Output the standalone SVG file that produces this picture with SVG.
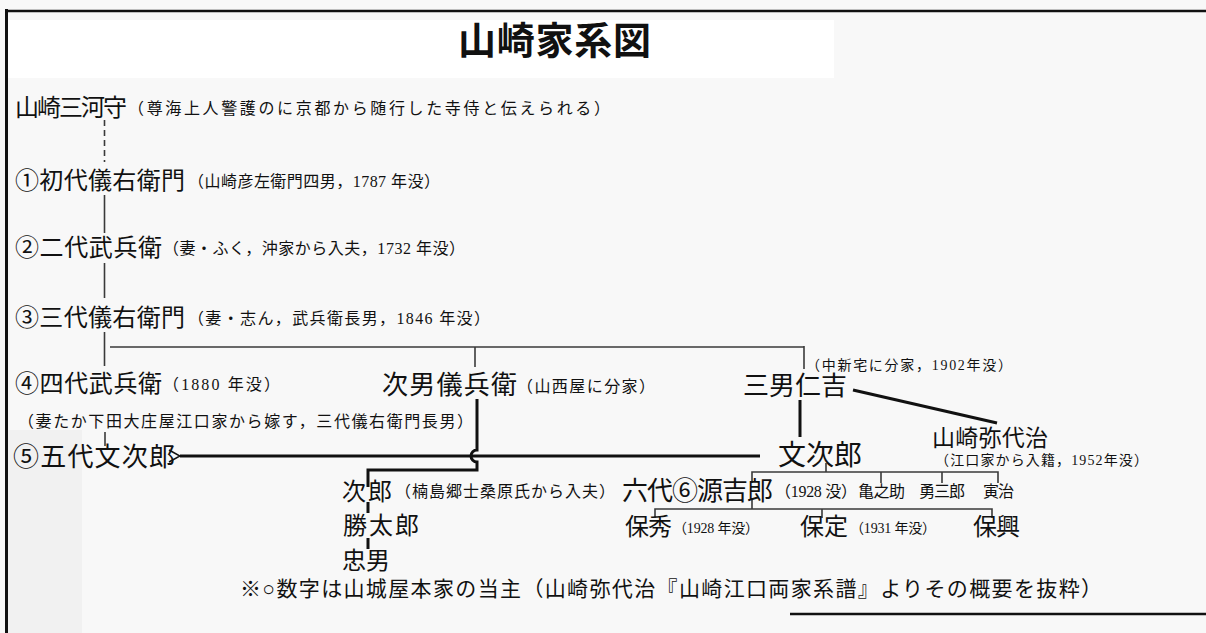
<svg xmlns="http://www.w3.org/2000/svg" width="1206" height="633" viewBox="0 0 1206 633">
<style>
text{font-family:"Liberation Serif","Noto Sans CJK JP",serif;fill:#111}
.t{font-size:38px;font-weight:bold}
.n{font-size:24px}
.b{font-size:26px}
.c{font-size:24px}
.a{font-size:16px}
.s{font-size:14px}
.f{font-size:21px}
.ln{stroke:#3a3a3a;stroke-width:1.6;fill:none}
.bk{stroke:#111;stroke-width:3;fill:none}
.fr{stroke:#111;fill:none}
</style>
<defs>
<marker id="arr" markerWidth="14" markerHeight="14" refX="1" refY="7" orient="auto" markerUnits="userSpaceOnUse">
<path d="M12,1 L1,7 L12,13" fill="none" stroke="#111" stroke-width="1.6"/>
</marker>
</defs>
<rect x="0" y="0" width="1206" height="633" fill="#f8f8f8"/>
<rect x="8" y="20" width="826" height="58" fill="#ffffff"/>
<rect x="8" y="430" width="74" height="203" fill="#f1f1f1"/>
<g id="frame">
<line class="fr" x1="6.5" y1="9" x2="6.5" y2="633" stroke-width="3"/>
<line class="fr" x1="5" y1="11" x2="1206" y2="11" stroke-width="2.5"/>
<line class="fr" x1="790" y1="614" x2="1206" y2="614" stroke-width="2.5"/>
</g>
<g id="title"><text class="t" x="458" y="54" textLength="193" lengthAdjust="spacing">山崎家系図</text></g>
<g id="connectors">
<line class="ln" x1="104.5" y1="120" x2="104.5" y2="162" stroke-dasharray="6 4" stroke-width="1.2"/>
<line class="ln" x1="104.5" y1="195" x2="104.5" y2="233"/>
<line class="ln" x1="104.5" y1="263" x2="104.5" y2="298"/>
<line class="ln" x1="104.5" y1="332" x2="104.5" y2="366"/>
<line class="ln" x1="110" y1="347" x2="804" y2="347"/>
<line class="ln" x1="475" y1="347" x2="475" y2="367"/>
<line class="ln" x1="804" y1="346" x2="804" y2="369"/>
<line class="ln" x1="105" y1="432" x2="105" y2="446"/>
<line class="bk" x1="760" y1="456" x2="180" y2="456" stroke-width="2.5" marker-end="url(#arr)"/>
<path class="bk" d="M477 399 V450 A6 6 0 0 0 477 462 V470 H368 V487"/>
<line class="bk" x1="800" y1="400" x2="800" y2="437"/>
<line class="bk" x1="853" y1="390" x2="997" y2="423" stroke-width="2.5"/>
<path class="ln" d="M752 483 V472 H998 V483 M826 463 V472 M881 472 V483 M942 472 V483"/>
<path class="ln" d="M655 518 V509 H992 V518 M752 500 V509 M822 509 V518"/>
<line class="bk" x1="368" y1="502" x2="368" y2="513" stroke-width="2.5"/>
<line class="bk" x1="368" y1="538" x2="368" y2="549" stroke-width="2.5"/>
</g>
<g id="n-mikawa">
<text class="n" x="15" y="116" textLength="112" lengthAdjust="spacing">山崎三河守</text>
<text class="a" x="128" y="114" textLength="482" lengthAdjust="spacing">（尊海上人警護のに京都から随行した寺侍と伝えられる）</text>
</g>
<g id="n-1">
<text class="n" x="15" y="189" textLength="170" lengthAdjust="spacing">①初代儀右衛門</text>
<text class="a" x="188" y="187" textLength="252" lengthAdjust="spacing">（山崎彦左衛門四男，1787 年没）</text>
</g>
<g id="n-2">
<text class="n" x="15" y="256" textLength="147" lengthAdjust="spacing">②二代武兵衛</text>
<text class="a" x="163" y="254" textLength="302" lengthAdjust="spacing">（妻・ふく，沖家から入夫，1732 年没）</text>
</g>
<g id="n-3">
<text class="n" x="15" y="326" textLength="170" lengthAdjust="spacing">③三代儀右衛門</text>
<text class="a" x="188" y="324" textLength="302" lengthAdjust="spacing">（妻・志ん，武兵衛長男，1846 年没）</text>
</g>
<g id="n-4">
<text class="n" x="15" y="392" textLength="147" lengthAdjust="spacing">④四代武兵衛</text>
<text class="a" x="163" y="390" textLength="117" lengthAdjust="spacing">（1880 年没）</text>
<text class="a" x="18" y="427" textLength="455" lengthAdjust="spacing">（妻たか下田大庄屋江口家から嫁す，三代儀右衛門長男）</text>
</g>
<g id="n-5">
<text class="b" x="13" y="466" textLength="162" lengthAdjust="spacing">⑤五代文次郎</text>
</g>
<g id="n-gihei">
<text class="b" x="382" y="394" textLength="135" lengthAdjust="spacing">次男儀兵衛</text>
<text class="a" x="517" y="392" textLength="138" lengthAdjust="spacing">（山西屋に分家）</text>
</g>
<g id="n-nikichi">
<text class="b" x="743" y="395" textLength="104" lengthAdjust="spacing">三男仁吉</text>
<text class="s" x="806" y="370" textLength="206" lengthAdjust="spacing">（中新宅に分家，1902年没）</text>
</g>
<g id="n-bunjiro">
<text style="font-size:28px" x="778" y="465" textLength="84" lengthAdjust="spacing">文次郎</text>
</g>
<g id="n-yayoji">
<text style="font-size:23px" x="932" y="446" textLength="116" lengthAdjust="spacing">山崎弥代治</text>
<text class="s" x="935" y="465" textLength="213" lengthAdjust="spacing">（江口家から入籍，1952年没）</text>
</g>
<g id="n-jiro">
<text class="c" x="342" y="500" textLength="50" lengthAdjust="spacing">次郎</text>
<text class="a" x="395" y="497" textLength="220" lengthAdjust="spacing">（楠島郷士桑原氏から入夫）</text>
</g>
<g id="n-genkichiro">
<text class="b" x="622" y="500" textLength="151" lengthAdjust="spacing">六代⑥源吉郎</text>
<text class="a" x="775" y="497" textLength="82" lengthAdjust="spacing">（1928 没）</text>
</g>
<g id="n-kamenosuke"><text class="a" x="858" y="497" textLength="47" lengthAdjust="spacing">亀之助</text></g>
<g id="n-yusaburo"><text class="a" x="919" y="497" textLength="46" lengthAdjust="spacing">勇三郎</text></g>
<g id="n-toraji"><text class="a" x="983" y="497" textLength="31" lengthAdjust="spacing">寅治</text></g>
<g id="n-katsutaro"><text class="c" x="343" y="534" textLength="76" lengthAdjust="spacing">勝太郎</text></g>
<g id="n-tadao"><text class="c" x="342" y="569" textLength="48" lengthAdjust="spacing">忠男</text></g>
<g id="n-yasuhide">
<text class="c" x="625" y="535" textLength="47" lengthAdjust="spacing">保秀</text>
<text class="s" x="673" y="533" textLength="86" lengthAdjust="spacing">（1928 年没）</text>
</g>
<g id="n-yasusada">
<text class="c" x="800" y="535" textLength="48" lengthAdjust="spacing">保定</text>
<text class="s" x="850" y="533" textLength="86" lengthAdjust="spacing">（1931 年没）</text>
</g>
<g id="n-yasuoki"><text class="c" x="973" y="535" textLength="47" lengthAdjust="spacing">保興</text></g>
<g id="note">
<text class="f" x="240" y="596" textLength="862" lengthAdjust="spacing">※○数字は山城屋本家の当主（山崎弥代治『山崎江口両家系譜』よりその概要を抜粋）</text>
</g>
</svg>
